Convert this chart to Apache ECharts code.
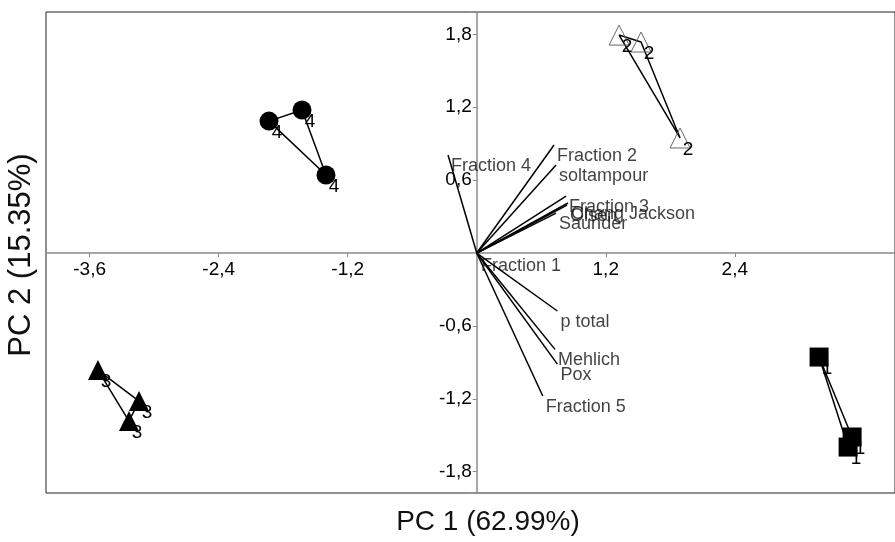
<!DOCTYPE html>
<html>
<head>
<meta charset="utf-8">
<script src="https://cdn.jsdelivr.net/npm/echarts@6/dist/echarts.min.js"></script>
<style>
  html, body { margin: 0; padding: 0; background: #fff; }
  #chart { width: 895px; height: 542px; }
</style>
</head>
<body>
<div id="chart"></div>
<script>
// sample scores, one list per group
const group1 = [[3.184, -0.856], [3.491, -1.514], [3.454, -1.597]]
const group2 = [[1.324, 1.794], [1.528, 1.737], [1.891, 0.947]]
const group3 = [[-3.523, -0.963], [-3.141, -1.218], [-3.234, -1.383]]
const group4 = [[-1.932, 1.086], [-1.625, 1.177], [-1.402, 0.642]]

// variable loadings
const varNames = ['Fraction 4', 'Fraction 2', 'soltampour', 'Fraction 3', 'Chang Jackson', 'Olsen', 'Saunder',
  'Fraction 1', 'p total', 'Mehlich', 'Pox', 'Fraction 5']
const varX = [-0.267, 0.719, 0.738, 0.831, 0.849, 0.840, 0.738, 0.012, 0.750, 0.728, 0.750, 0.614]
const varY = [0.807, 0.889, 0.724, 0.469, 0.412, 0.395, 0.329, -0.016, -0.477, -0.793, -0.914, -1.177]

const xTicks = [-3.6, -2.4, -1.2, 1.2, 2.4]
const yTicks = [-1.8, -1.2, -0.6, 0.6, 1.2, 1.8]

const xMin = -4.006, xMax = 3.89
const yMin = -1.975, yMax = 1.984
const gridBox = { left: 46, top: 12, right: 0, bottom: 49 }
const W = 895, H = 542

// shift the axes so they cross at the origin, with their ticks and labels
const plotW = W - gridBox.left - gridBox.right
const plotH = H - gridBox.top - gridBox.bottom
const xOffset = -(plotH * (0 - yMin) / (yMax - yMin))
const yOffset = -(plotW * (0 - xMin) / (xMax - xMin))

const fmt = (v) => Number(v).toFixed(1).replace('.', ',')
const closed = (g) => g.concat([g[0]])
const font = 'Liberation Sans, Arial'

const axisCommon = {
  type: 'value',
  splitLine: { show: false },
  axisLine: { onZero: false, lineStyle: { color: '#8a8a8a', width: 1.5 } },
  axisTick: { length: 4, lineStyle: { color: '#8a8a8a' } },
  axisLabel: { color: '#000', fontSize: 19, fontFamily: font, formatter: fmt }
}

const groupLine = (g) => ({
  type: 'line',
  data: closed(g),
  symbol: 'none',
  lineStyle: { color: '#000', width: 1.5 },
  z: 3
})

const groupMarks = (g, symbol, size, digit, itemStyle) => ({
  type: 'scatter',
  data: g,
  symbol,
  symbolSize: size,
  itemStyle: { opacity: 1, ...itemStyle },
  label: {
    show: true,
    position: 'inside',
    offset: [8, 12],
    formatter: digit,
    color: '#000',
    fontSize: 19,
    fontFamily: font
  },
  z: 4
})

const chart = echarts.init(document.getElementById('chart'))
chart.setOption({
  animation: false,
  grid: { ...gridBox, show: true, borderColor: '#222', borderWidth: 1 },
  xAxis: {
    ...axisCommon,
    min: xMin,
    max: xMax,
    offset: xOffset,
    axisTick: { ...axisCommon.axisTick, customValues: xTicks },
    axisLabel: { ...axisCommon.axisLabel, customValues: xTicks, margin: 7 }
  },
  yAxis: {
    ...axisCommon,
    min: yMin,
    max: yMax,
    offset: yOffset,
    axisTick: { ...axisCommon.axisTick, customValues: yTicks },
    axisLabel: { ...axisCommon.axisLabel, customValues: yTicks, margin: 5 }
  },
  graphic: [
    { type: 'text', x: 488, y: 522, style: { text: 'PC 1 (62.99%)', font: '28px "Liberation Sans", Arial', fill: '#111', textAlign: 'center', textVerticalAlign: 'middle' } },
    { type: 'text', x: 21, y: 255, rotation: Math.PI / 2, style: { text: 'PC 2 (15.35%)', font: '31px "Liberation Sans", Arial', fill: '#111', textAlign: 'center', textVerticalAlign: 'middle' } }
  ],
  series: [
    {
      type: 'lines',
      coordinateSystem: 'cartesian2d',
      data: varX.map((x, i) => ({ coords: [[0, 0], [x, varY[i]]] })),
      lineStyle: { color: '#000', width: 1.5, opacity: 1 },
      z: 3
    },
    {
      type: 'scatter',
      data: varX.map((x, i) => [x, varY[i], varNames[i]]),
      symbolSize: 0,
      label: {
        show: true,
        position: 'right',
        distance: 3,
        offset: [0, 11],
        formatter: (p) => p.data[2],
        color: '#111',
        fontSize: 18,
        fontFamily: font
      },
      z: 3
    },
    groupLine(group1),
    groupLine(group2),
    groupLine(group3),
    groupLine(group4),
    groupMarks(group1, 'rect', 19, '1', { color: '#000' }),
    groupMarks(group2, 'triangle', [20, 20], '2', { color: 'rgba(0,0,0,0)', borderColor: '#666', borderWidth: 1 }),
    groupMarks(group3, 'triangle', [20, 20], '3', { color: '#000' }),
    groupMarks(group4, 'circle', 19, '4', { color: '#000' })
  ]
})
</script>
</body>
</html>
